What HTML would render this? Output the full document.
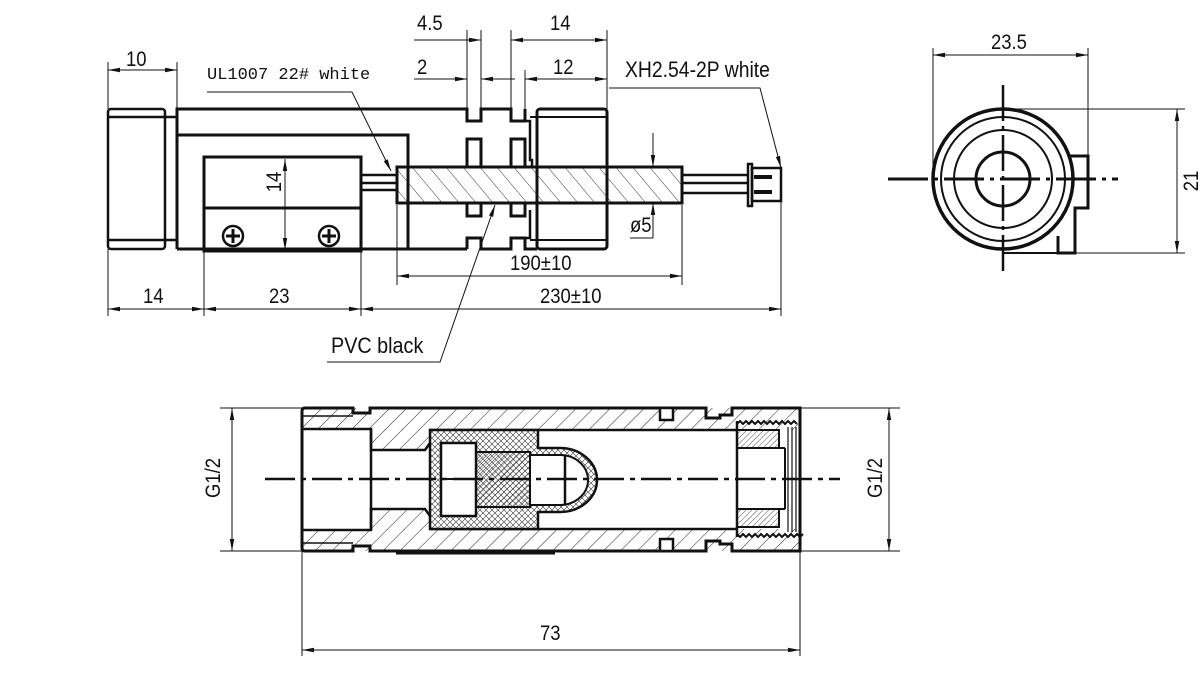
<!DOCTYPE html>
<html><head><meta charset="utf-8"><style>
html,body{margin:0;padding:0;background:#fff;}
svg{display:block;}
text{font-family:"Liberation Sans",sans-serif;fill:#111;}
</style></head><body>
<svg width="1200" height="683" viewBox="0 0 1200 683" xmlns="http://www.w3.org/2000/svg">
<defs>
<pattern id="h1" patternUnits="userSpaceOnUse" width="12" height="12" patternTransform="rotate(45)">
<line x1="0" y1="0" x2="0" y2="12" stroke="#222" stroke-width="1"/></pattern>
<pattern id="h2" patternUnits="userSpaceOnUse" width="4" height="4" patternTransform="rotate(45)">
<line x1="0" y1="0" x2="0" y2="4" stroke="#222" stroke-width="0.8"/></pattern>
<pattern id="hx" patternUnits="userSpaceOnUse" width="6" height="6">
<rect width="6" height="6" fill="#fff"/><path d="M0 0L6 6M6 0L0 6" stroke="#333" stroke-width="0.6"/></pattern>
<pattern id="hc" patternUnits="userSpaceOnUse" width="13" height="13" patternTransform="rotate(-40)">
<line x1="0" y1="0" x2="0" y2="13" stroke="#222" stroke-width="0.9"/></pattern>
<marker id="a" markerWidth="12" markerHeight="6" refX="12" refY="3" orient="auto" markerUnits="userSpaceOnUse">
<path d="M0 0.8L12 3L0 5.2Z" fill="#111"/></marker>
<marker id="b" markerWidth="12" markerHeight="6" refX="0" refY="3" orient="auto" markerUnits="userSpaceOnUse">
<path d="M12 0.8L0 3L12 5.2Z" fill="#111"/></marker>
</defs>

<g fill="none" stroke="#111">
<rect x="108" y="109" width="57" height="140" rx="3" stroke-width="2.5"/>
<line x1="108" y1="117" x2="176" y2="117" stroke-width="2.5"/>
<line x1="108" y1="240" x2="176" y2="240" stroke-width="2.5"/>
<path d="M177 249V109H467V121H481V109H511V121H525V109" stroke-width="3"/>
<path d="M177 135H408V249" stroke-width="3"/>
<line x1="177" y1="249" x2="467" y2="249" stroke-width="3"/>
<path d="M467 249V238H481V249H511V238H525V249H537" stroke-width="3"/>
<path d="M467 167V139H481V167M511 167V139H525V167M467 203V216H481V203M511 203V216H525V203" stroke-width="3"/>
<path d="M525 121H530V160H532V167M525 238H530V210" stroke-width="2.5"/>
<rect x="537" y="109" width="70" height="140" rx="3" stroke-width="3"/>
<line x1="530" y1="117" x2="607" y2="117" stroke-width="2"/>
<line x1="530" y1="240" x2="607" y2="240" stroke-width="2"/>
<rect x="204" y="157" width="157" height="94" stroke-width="3"/>
<line x1="204" y1="208" x2="361" y2="208" stroke-width="3"/>
<circle cx="233" cy="236" r="10" stroke-width="2.5"/>
<circle cx="329" cy="236" r="10" stroke-width="2.5"/>
<path d="M233 229V243M226 236H240M329 229V243M322 236H336" stroke-width="3"/>
<path d="M361 175H397M361 183H397M361 190H397" stroke-width="2.5"/>
<rect x="397" y="167" width="285" height="36" fill="url(#hc)" stroke-width="3"/>
<path d="M682 175H749M682 183H749M682 193H749" stroke-width="2.5"/>
<rect x="748" y="164" width="4" height="42" stroke-width="2.5"/>
<rect x="752" y="168" width="29" height="33" stroke-width="2.5"/>
<path d="M754 177H772M754 192H772" stroke-width="4"/>

<g stroke-width="1">
<line x1="108" y1="62" x2="108" y2="109"/><line x1="177" y1="62" x2="177" y2="109"/>
<line x1="108" y1="70" x2="177" y2="70" marker-start="url(#b)" marker-end="url(#a)"/>
<line x1="467" y1="30" x2="467" y2="109"/><line x1="481" y1="30" x2="481" y2="109"/>
<line x1="511" y1="30" x2="511" y2="109"/><line x1="525" y1="70" x2="525" y2="109"/>
<line x1="607" y1="30" x2="607" y2="109"/>
<line x1="414" y1="40" x2="481" y2="40" marker-end="url(#a)"/>
<line x1="511" y1="40" x2="607" y2="40" marker-start="url(#b)" marker-end="url(#a)"/>
<line x1="414" y1="79" x2="467" y2="79" marker-end="url(#a)"/>
<line x1="515" y1="79" x2="481" y2="79" marker-end="url(#a)"/>
<line x1="525" y1="79" x2="607" y2="79" marker-start="url(#b)" marker-end="url(#a)"/>
<polyline points="207,92 352,92 391,171" marker-end="url(#a)"/>
<polyline points="609,88 760,88 781,168" marker-end="url(#a)"/>
<line x1="285" y1="159" x2="285" y2="250" marker-start="url(#b)" marker-end="url(#a)"/>
<line x1="653" y1="133" x2="653" y2="167" marker-end="url(#a)"/>
<line x1="653" y1="238" x2="653" y2="203" marker-end="url(#a)"/>
<line x1="630" y1="238" x2="653" y2="238"/>
<line x1="397" y1="205" x2="397" y2="285"/><line x1="682" y1="205" x2="682" y2="285"/>
<line x1="397" y1="276" x2="682" y2="276" marker-start="url(#b)" marker-end="url(#a)"/>
<line x1="108" y1="249" x2="108" y2="316"/><line x1="204" y1="251" x2="204" y2="316"/>
<line x1="361" y1="251" x2="361" y2="316"/><line x1="781" y1="201" x2="781" y2="316"/>
<line x1="108" y1="309" x2="204" y2="309" marker-start="url(#b)" marker-end="url(#a)"/>
<line x1="204" y1="309" x2="361" y2="309" marker-start="url(#b)" marker-end="url(#a)"/>
<line x1="361" y1="309" x2="781" y2="309" marker-start="url(#b)" marker-end="url(#a)"/>
<polyline points="327,362 440,362 495,205" marker-end="url(#a)"/>
</g>

<path d="M1070 156H1088V208H1075V253H1058V236" stroke-width="3"/>
<line x1="1003" y1="253" x2="1058" y2="253" stroke-width="2"/>
<circle cx="1003" cy="179" r="70" stroke-width="3.5" fill="#fff"/>
<circle cx="1003" cy="179" r="62" stroke-width="2"/>
<circle cx="1003" cy="179" r="49" stroke-width="2"/>
<circle cx="1003" cy="179" r="27" stroke-width="3"/>
<line x1="888" y1="179" x2="1118" y2="179" stroke-width="3" stroke-dasharray="40,6,4,6"/>
<line x1="1003" y1="85" x2="1003" y2="272" stroke-width="2.5" stroke-dasharray="36,5,4,5"/>
<g stroke-width="1">
<line x1="933" y1="48" x2="933" y2="179"/><line x1="1088" y1="48" x2="1088" y2="156"/>
<line x1="933" y1="55" x2="1088" y2="55" marker-start="url(#b)" marker-end="url(#a)"/>
<line x1="1003" y1="109" x2="1185" y2="109"/><line x1="1075" y1="253" x2="1185" y2="253"/>
<line x1="1177" y1="109" x2="1177" y2="253" marker-start="url(#b)" marker-end="url(#a)"/>
</g>

<rect x="302" y="408" width="498" height="22" fill="url(#h1)" stroke="none"/>
<rect x="302" y="529" width="498" height="22" fill="url(#h1)" stroke="none"/>
<rect x="371" y="429" width="59" height="21" fill="url(#h1)" stroke="none"/>
<rect x="371" y="509" width="59" height="21" fill="url(#h1)" stroke="none"/>
<rect x="302" y="429" width="69" height="101" fill="#fff" stroke="none"/>
<path d="M305 408H353V413H370V408H706V418H720V415H732V408H800V551H732V544H720V541H706V551H370V546H353V551H305Q302 551 302 548V411Q302 408 305 408Z" stroke-width="3"/>
<path d="M302 416H353M302 543H353" stroke-width="1.5"/>
<path d="M302 429H371V450H425L430 443M302 530H371V509H425L430 516" stroke-width="2.5"/>
<line x1="371" y1="429" x2="371" y2="530" stroke-width="2.5"/>
<path d="M430 430H737M430 529H737" stroke-width="2.5"/>
<rect x="660" y="408" width="13" height="12" fill="#fff" stroke-width="2.5"/>
<rect x="660" y="539" width="13" height="12" fill="#fff" stroke-width="2.5"/>
<line x1="396" y1="553" x2="555" y2="553" stroke-width="3"/>
<path d="M430 430H538V448H560A37 32 0 0 1 560 512H538V529H430Z" fill="url(#hx)" stroke-width="2.5"/>
<rect x="441" y="443" width="35" height="73" fill="#fff" stroke-width="2.5"/>
<line x1="441" y1="479" x2="476" y2="479" stroke-width="2"/>
<rect x="476" y="452" width="54" height="55" fill="url(#h2)" stroke-width="2"/>
<path d="M530 455H560A28 25 0 0 1 560 505H530Z" fill="#fff" stroke-width="2"/>
<line x1="565" y1="455" x2="565" y2="505" stroke-width="2.5"/>
<rect x="737" y="430" width="42" height="18" fill="url(#h2)" stroke-width="2"/>
<rect x="737" y="509" width="42" height="18" fill="url(#h2)" stroke-width="2"/>
<path d="M737 421V537" stroke-width="2.5"/>
<path d="M737 448H785M737 509H785M785 448V509" stroke-width="2"/>
<path d="M737 424l3 -3 3 3 3 -3 3 3 3 -3 3 3 3 -3 3 3 3 -3 3 3 3 -3 3 3 3 -3 3 3 3 -3 3 3 3 -3 3 3 3 -3 3 3M737 534l3 3 3 -3 3 3 3 -3 3 3 3 -3 3 3 3 -3 3 3 3 -3 3 3 3 -3 3 3 3 -3 3 3 3 -3 3 3 3 -3 3 3 3 -3 3 3 3 -3" stroke-width="2"/>
<path d="M788 427V532M792 427V532M796 427V532" stroke-width="1.2"/>
<line x1="265" y1="479" x2="840" y2="479" stroke-width="2.5" stroke-dasharray="30,6,5,6"/>
<g stroke-width="1">
<line x1="220" y1="408" x2="302" y2="408"/><line x1="220" y1="551" x2="302" y2="551"/>
<line x1="232" y1="408" x2="232" y2="551" marker-start="url(#b)" marker-end="url(#a)"/>
<line x1="800" y1="408" x2="900" y2="408"/><line x1="800" y1="551" x2="900" y2="551"/>
<line x1="889" y1="408" x2="889" y2="551" marker-start="url(#b)" marker-end="url(#a)"/>
<line x1="302" y1="551" x2="302" y2="656"/><line x1="800" y1="551" x2="800" y2="656"/>
<line x1="302" y1="650" x2="800" y2="650" marker-start="url(#b)" marker-end="url(#a)"/>
</g>
</g>

<g font-size="21">
<text transform="translate(126,66) scale(0.88,1)">10</text>
<text x="207" y="79" style="font-family:'Liberation Mono',monospace" font-size="17">UL1007 22# white</text>
<text transform="translate(417,30) scale(0.88,1)">4.5</text>
<text transform="translate(550,30) scale(0.88,1)">14</text>
<text transform="translate(417,74) scale(0.88,1)">2</text>
<text transform="translate(553,74) scale(0.88,1)">12</text>
<text transform="translate(625,77) scale(0.88,1)" font-size="22">XH2.54-2P white</text>
<text transform="translate(630,232) scale(0.88,1)">ø5</text>
<text transform="translate(510,270) scale(0.88,1)">190±10</text>
<text transform="translate(143,303) scale(0.88,1)">14</text>
<text transform="translate(269,303) scale(0.88,1)">23</text>
<text transform="translate(540,303) scale(0.88,1)">230±10</text>
<text transform="translate(331,353) scale(0.9,1)" font-size="22">PVC black</text>
<text transform="translate(991,49) scale(0.88,1)">23.5</text>
<text transform="translate(540,640) scale(0.88,1)">73</text>
<text transform="translate(281,182) rotate(-90) scale(0.88,1)" text-anchor="middle">14</text>
<text transform="translate(1198,181) rotate(-90) scale(0.88,1)" text-anchor="middle">21</text>
<text transform="translate(220,478) rotate(-90) scale(0.88,1)" text-anchor="middle">G1/2</text>
<text transform="translate(882,478) rotate(-90) scale(0.88,1)" text-anchor="middle">G1/2</text>
</g>
</svg>
</body></html>
